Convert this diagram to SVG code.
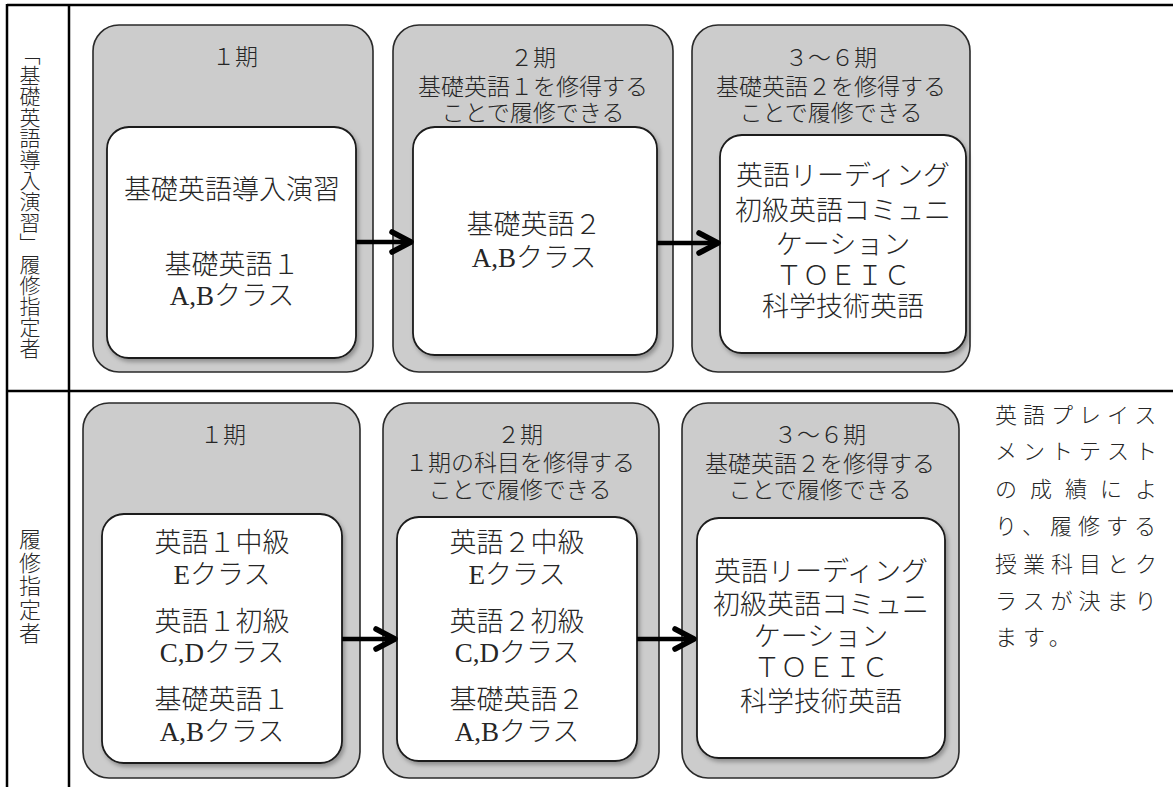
<svg xmlns="http://www.w3.org/2000/svg" width="1173" height="787" viewBox="0 0 1173 787">
<style>
.grid{stroke:#000;stroke-width:2.5;fill:none}
.panel{fill:#cccccc;stroke:#2a2a2a;stroke-width:1.6}
.inner{fill:#ffffff;stroke:#1a1a1a;stroke-width:1.8;filter:url(#sh)}
text{font-family:"Liberation Serif","Noto Sans CJK JP",serif;fill:#262626;font-weight:300;text-anchor:middle;dominant-baseline:central}
.t{font-size:23px}
.m{font-size:27px}
.v{font-family:"Noto Sans CJK JP",sans-serif;writing-mode:vertical-rl;text-anchor:start;dominant-baseline:auto}
.note{font-size:22px;text-anchor:start}
.arr{stroke:#000;stroke-width:4.5;fill:none;marker-end:url(#chev)}
</style>
<defs>
<filter id="sh" x="-10%" y="-10%" width="125%" height="125%">
<feDropShadow dx="2" dy="3" stdDeviation="2" flood-color="#000" flood-opacity="0.3"/>
</filter>
<marker id="chev" markerUnits="userSpaceOnUse" markerWidth="40" markerHeight="40" viewBox="-30 -20 40 40" refX="0" refY="0" orient="auto" overflow="visible">
<path d="M-19,-10 L0,0 L-19,10" fill="none" stroke="#000" stroke-width="5.5" stroke-linecap="round" stroke-linejoin="round"/>
</marker>
</defs>
<rect width="1173" height="787" fill="#fff"/>
<g id="table">
<line class="grid" x1="7" y1="5" x2="1173" y2="5"/>
<line class="grid" x1="7" y1="391" x2="1173" y2="391"/>
<line class="grid" x1="7" y1="4" x2="7" y2="787"/>
<line class="grid" x1="69" y1="4" x2="69" y2="787"/>
<text class="v" x="30" y="44" style="font-size:21px">「基礎英語導入演習」履修指定者</text>
<text class="v" x="30" y="528" style="font-size:22px;letter-spacing:1.5px">履修指定者</text>
</g>
<g id="top-p1">
<rect class="panel" x="93" y="25" width="280" height="347" rx="26"/>
<text class="t" x="235" y="57">１期</text>
<rect class="inner" x="107" y="127" width="249" height="231" rx="22"/>
<text class="m" x="232" y="190">基礎英語導入演習</text>
<text class="m" x="232" y="265">基礎英語１</text>
<text class="m" x="232" y="296">A,Bクラス</text>
</g>
<g id="top-p2">
<rect class="panel" x="393" y="25" width="280" height="347" rx="26"/>
<text class="t" x="533" y="58">２期</text>
<text class="t" x="533" y="87">基礎英語１を修得する</text>
<text class="t" x="533" y="113">ことで履修できる</text>
<rect class="inner" x="413" y="127" width="244" height="228" rx="22"/>
<text class="m" x="534" y="225">基礎英語２</text>
<text class="m" x="534" y="258">A,Bクラス</text>
</g>
<g id="top-p3">
<rect class="panel" x="692" y="25" width="278" height="347" rx="26"/>
<text class="t" x="831" y="58">３～６期</text>
<text class="t" x="831" y="87">基礎英語２を修得する</text>
<text class="t" x="831" y="113">ことで履修できる</text>
<rect class="inner" x="720" y="135" width="246" height="218" rx="22"/>
<text class="m" x="843" y="176">英語リーディング</text>
<text class="m" x="843" y="211">初級英語コミュニ</text>
<text class="m" x="843" y="245">ケーション</text>
<text class="m" x="843" y="276">ＴＯＥＩＣ</text>
<text class="m" x="843" y="307">科学技術英語</text>
</g>
<g id="bot-p1">
<rect class="panel" x="83" y="403" width="277" height="375" rx="26"/>
<text class="t" x="223" y="435">１期</text>
<rect class="inner" x="102" y="514" width="240" height="249" rx="22"/>
<text class="m" x="222" y="543">英語１中級</text>
<text class="m" x="222" y="575">Eクラス</text>
<text class="m" x="222" y="622">英語１初級</text>
<text class="m" x="222" y="653">C,Dクラス</text>
<text class="m" x="222" y="700">基礎英語１</text>
<text class="m" x="222" y="732">A,Bクラス</text>
</g>
<g id="bot-p2">
<rect class="panel" x="383" y="403" width="276" height="375" rx="26"/>
<text class="t" x="520" y="435">２期</text>
<text class="t" x="520" y="463">１期の科目を修得する</text>
<text class="t" x="520" y="490">ことで履修できる</text>
<rect class="inner" x="397" y="517" width="240" height="244" rx="22"/>
<text class="m" x="517" y="543">英語２中級</text>
<text class="m" x="517" y="575">Eクラス</text>
<text class="m" x="517" y="622">英語２初級</text>
<text class="m" x="517" y="653">C,Dクラス</text>
<text class="m" x="517" y="700">基礎英語２</text>
<text class="m" x="517" y="732">A,Bクラス</text>
</g>
<g id="bot-p3">
<rect class="panel" x="682" y="403" width="277" height="375" rx="26"/>
<text class="t" x="820" y="435">３～６期</text>
<text class="t" x="820" y="464">基礎英語２を修得する</text>
<text class="t" x="820" y="490">ことで履修できる</text>
<rect class="inner" x="697" y="518" width="248" height="240" rx="22"/>
<text class="m" x="821" y="572">英語リーディング</text>
<text class="m" x="821" y="605">初級英語コミュニ</text>
<text class="m" x="821" y="637">ケーション</text>
<text class="m" x="821" y="668">ＴＯＥＩＣ</text>
<text class="m" x="821" y="702">科学技術英語</text>
</g>
<g id="note">
<text class="note" x="995" y="415" style="letter-spacing:6px">英語プレイス</text>
<text class="note" x="995" y="451" style="letter-spacing:6px">メントテスト</text>
<text class="note" x="995" y="489" style="letter-spacing:13px">の成績によ</text>
<text class="note" x="995" y="526" style="letter-spacing:6px">り、履修する</text>
<text class="note" x="995" y="564" style="letter-spacing:6px">授業科目とク</text>
<text class="note" x="995" y="601" style="letter-spacing:6px">ラスが決まり</text>
<text class="note" x="995" y="637" style="letter-spacing:6px">ます。</text>
</g>
<g id="connectors">
<line class="arr" x1="356" y1="242" x2="411" y2="242"/>
<line class="arr" x1="657" y1="243" x2="718" y2="243"/>
<line class="arr" x1="342" y1="639" x2="395" y2="639"/>
<line class="arr" x1="637" y1="639" x2="694" y2="639"/>
</g>
</svg>
